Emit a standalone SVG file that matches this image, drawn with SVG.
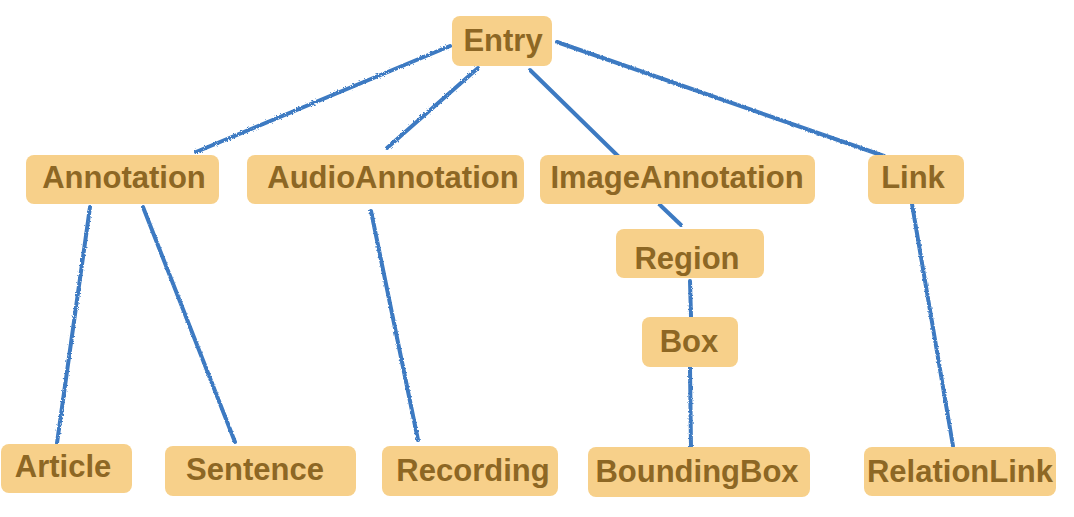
<svg xmlns="http://www.w3.org/2000/svg" width="1074" height="517" viewBox="0 0 1074 517">
<defs>
<filter id="rough" x="-5%" y="-5%" width="110%" height="110%">
<feTurbulence type="fractalNoise" baseFrequency="0.6" numOctaves="2" seed="3" result="n"/>
<feDisplacementMap in="SourceGraphic" in2="n" scale="3"/>
</filter>
</defs>
<style>
.node rect{fill:#F7D08A;}
.node text{font-family:"Liberation Sans",Arial,sans-serif;font-weight:bold;font-size:31px;fill:#8D6724;text-anchor:middle;}
#edges line{stroke:#3C7AC2;stroke-width:4;stroke-linecap:round;}
</style>
<rect width="1074" height="517" fill="#ffffff"/>
<g id="edges" filter="url(#rough)">
<line x1="450" y1="46" x2="196" y2="152"/>
<line x1="478" y1="68" x2="387" y2="148"/>
<line x1="530" y1="70" x2="620" y2="158"/>
<line x1="557" y1="42" x2="884" y2="156"/>
<line x1="90" y1="207" x2="57" y2="443"/>
<line x1="143" y1="207" x2="235" y2="442"/>
<line x1="371" y1="211" x2="418" y2="440"/>
<line x1="660" y1="205" x2="681" y2="225"/>
<line x1="690" y1="281" x2="691" y2="317"/>
<line x1="690" y1="367" x2="691" y2="449"/>
<line x1="912" y1="204" x2="953" y2="446"/>
</g>
<g id="n-entry" class="node"><rect x="452" y="16" width="100" height="50" rx="8"/><text x="503" y="51">Entry</text></g>
<g id="n-annotation" class="node"><rect x="26" y="155" width="193" height="49" rx="8"/><text x="124" y="188">Annotation</text></g>
<g id="n-audio" class="node"><rect x="247" y="155" width="277" height="49" rx="8"/><text x="393" y="188">AudioAnnotation</text></g>
<g id="n-image" class="node"><rect x="540" y="155" width="275" height="49" rx="8"/><text x="677" y="188">ImageAnnotation</text></g>
<g id="n-link" class="node"><rect x="868" y="155" width="96" height="49" rx="8"/><text x="913" y="188">Link</text></g>
<g id="n-region" class="node"><rect x="616" y="229" width="148" height="49" rx="8"/><text x="687" y="269">Region</text></g>
<g id="n-box" class="node"><rect x="642" y="317" width="96" height="50" rx="8"/><text x="689" y="352">Box</text></g>
<g id="n-article" class="node"><rect x="1" y="444" width="131" height="49" rx="8"/><text x="63" y="477">Article</text></g>
<g id="n-sentence" class="node"><rect x="165" y="446" width="191" height="50" rx="8"/><text x="255" y="480">Sentence</text></g>
<g id="n-recording" class="node"><rect x="382" y="446" width="176" height="50" rx="8"/><text x="473" y="481">Recording</text></g>
<g id="n-boundingbox" class="node"><rect x="588" y="447" width="222" height="50" rx="8"/><text x="697" y="482">BoundingBox</text></g>
<g id="n-relationlink" class="node"><rect x="864" y="447" width="192" height="49" rx="8"/><text x="960" y="482">RelationLink</text></g>
</svg>
